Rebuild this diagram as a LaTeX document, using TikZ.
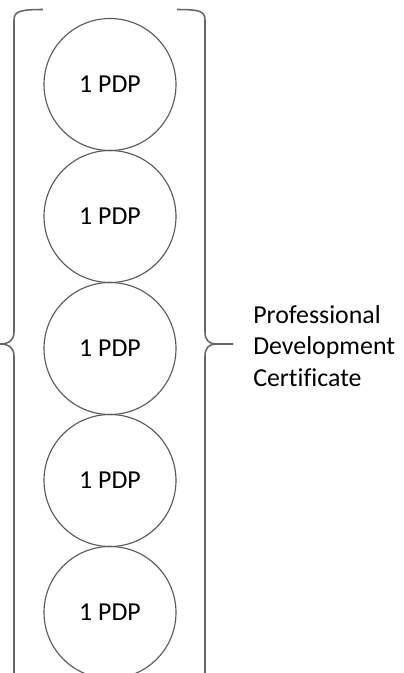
\documentclass[tikz,border=0pt]{standalone}
\usepackage{fontspec}
\setmainfont[Ligatures=NoCommon]{Carlito}
\usepackage{tikz}

\tikzset{
  pdp/.style={circle, draw=black!65, line width=0.8pt, minimum size=132*0.025cm, inner sep=0pt,
    font=\fontsize{18.4}{22}\selectfont},
  bracket/.style={draw=black!60, line width=1.1pt},
}

\begin{document}
\begin{tikzpicture}[x=0.025cm, y=-0.025cm]
          \useasboundingbox (0, 0) rectangle (403, 673);
          \clip (0, 0) rectangle (403, 673);
          % five PDP circles
          \node[pdp] (pdp1) at (110, 84.5) {1 PDP};
          \node[pdp] (pdp2) at (110, 216.5) {1 PDP};
          \node[pdp] (pdp3) at (110, 348.5) {1 PDP};
          \node[pdp] (pdp4) at (110, 480.5) {1 PDP};
          \node[pdp] (pdp5) at (110, 612.5) {1 PDP};
          %
          % left brace
          \draw[bracket] (43, 9.5) .. controls (21, 9.5) and (14, 11) .. (14, 20) -- (14, 332)
            .. controls (14, 340) and (9, 344) .. (0, 344)
            .. controls (9, 344) and (14, 348) .. (14, 356) -- (14, 676)
            .. controls (14, 685) and (21, 686.5) .. (43, 686.5);
          % right brace
          \draw[bracket] (177, 9.5) .. controls (199, 9.5) and (205, 11) .. (205, 20) -- (205, 332)
            .. controls (205, 340) and (209, 344) .. (216, 344) -- (233, 344);
          \draw[bracket] (233, 344) -- (216, 344)
            .. controls (209, 344) and (205, 348) .. (205, 356) -- (205, 676)
            .. controls (205, 685) and (199, 686.5) .. (177, 686.5);
          %
          \node[align=left, anchor=west, inner sep=0pt, font=\fontsize{18.4}{22.2}\selectfont] (cert) at (253, 346)
            {Professional\\ Development\\ Certificate};
        \end{tikzpicture}
\end{document}
